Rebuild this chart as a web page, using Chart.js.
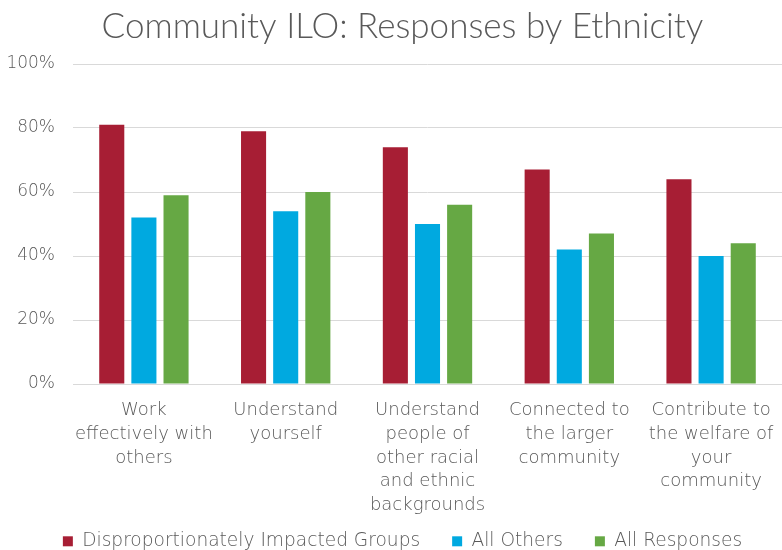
<!DOCTYPE html>
<html>
<head>
<meta charset="utf-8">
<script src="https://cdn.jsdelivr.net/npm/chart.js@4"></script>
<style>
  html, body { margin: 0; padding: 0; background: #fff; }
  #wrap { width: 782px; height: 550px; }
</style>
</head>
<body>
<div id="wrap"><canvas id="c" width="782" height="550"></canvas></div>
<script>
const titleText = "Community ILO: Responses by Ethnicity";
const categories = [
  ["Work", "effectively with", "others"],
  ["Understand", "yourself"],
  ["Understand", "people of", "other racial", "and ethnic", "backgrounds"],
  ["Connected to", "the larger", "community"],
  ["Contribute to", "the welfare of", "your", "community"]
];
const seriesNames = ["Disproportionately Impacted Groups", "All Others", "All Responses"];
const impacted = [81, 79, 74, 67, 64];
const allOthers = [52, 54, 50, 42, 40];
const allResponses = [59, 60, 56, 47, 44];
const yTicks = [0, 20, 40, 60, 80, 100];

const FONT = "'DejaVu Sans'";
const GRAY = "#595959";

// let the axis labels extend beyond their scale boxes (avoid clipping)
const extendLabels = {
  id: "extendLabels",
  afterLayout(chart) {
    chart.scales.x.bottom = chart.height;
    chart.scales.y.left = 0;
  }
};

new Chart(document.getElementById("c"), {
  type: "bar",
  data: {
    labels: categories,
    datasets: [
      { label: seriesNames[0], data: impacted, backgroundColor: "#A71E34" },
      { label: seriesNames[1], data: allOthers, backgroundColor: "#00A9E0" },
      { label: seriesNames[2], data: allResponses, backgroundColor: "#66A844" }
    ]
  },
  plugins: [extendLabels],
  options: {
    responsive: false,
    animation: false,
    devicePixelRatio: 1,
    layout: { padding: { left: 18, right: -5, top: 0, bottom: 0 } },
    datasets: { bar: { categoryPercentage: 0.68, barPercentage: 0.78 } },
    plugins: {
      title: {
        display: true,
        text: titleText,
        color: GRAY,
        font: { family: "Lato", size: 35, weight: 300 },
        padding: { top: 6, bottom: 16 }
      },
      legend: {
        position: "bottom",
        maxHeight: 50,
        labels: {
          color: GRAY,
          font: { family: FONT, size: 18.6, weight: 200 },
          boxWidth: 10,
          boxHeight: 10,
          padding: 32
        }
      },
      tooltip: { enabled: false }
    },
    scales: {
      x: {
        afterFit: (s) => { s.height = 116; s.paddingLeft = 0; s.paddingRight = -5; },
        grid: { display: false, drawTicks: false },
        border: { display: true, color: "#d9d9d9", width: 1 },
        ticks: {
          color: GRAY,
          font: { family: FONT, size: 18, weight: 200, lineHeight: 1.33 },
          padding: 14,
          maxRotation: 0,
          autoSkip: false
        }
      },
      y: {
        min: 0,
        max: 100,
        afterFit: (s) => { s.width = 55; },
        afterBuildTicks: (s) => { s.ticks = yTicks.map(v => ({ value: v })); },
        grid: { color: "#d9d9d9", lineWidth: 1, drawTicks: false },
        border: { display: false },
        ticks: {
          color: GRAY,
          font: { family: FONT, size: 17, weight: 200 },
          padding: 18,
          callback: (v) => v + "%"
        }
      }
    }
  }
});
</script>
</body>
</html>
